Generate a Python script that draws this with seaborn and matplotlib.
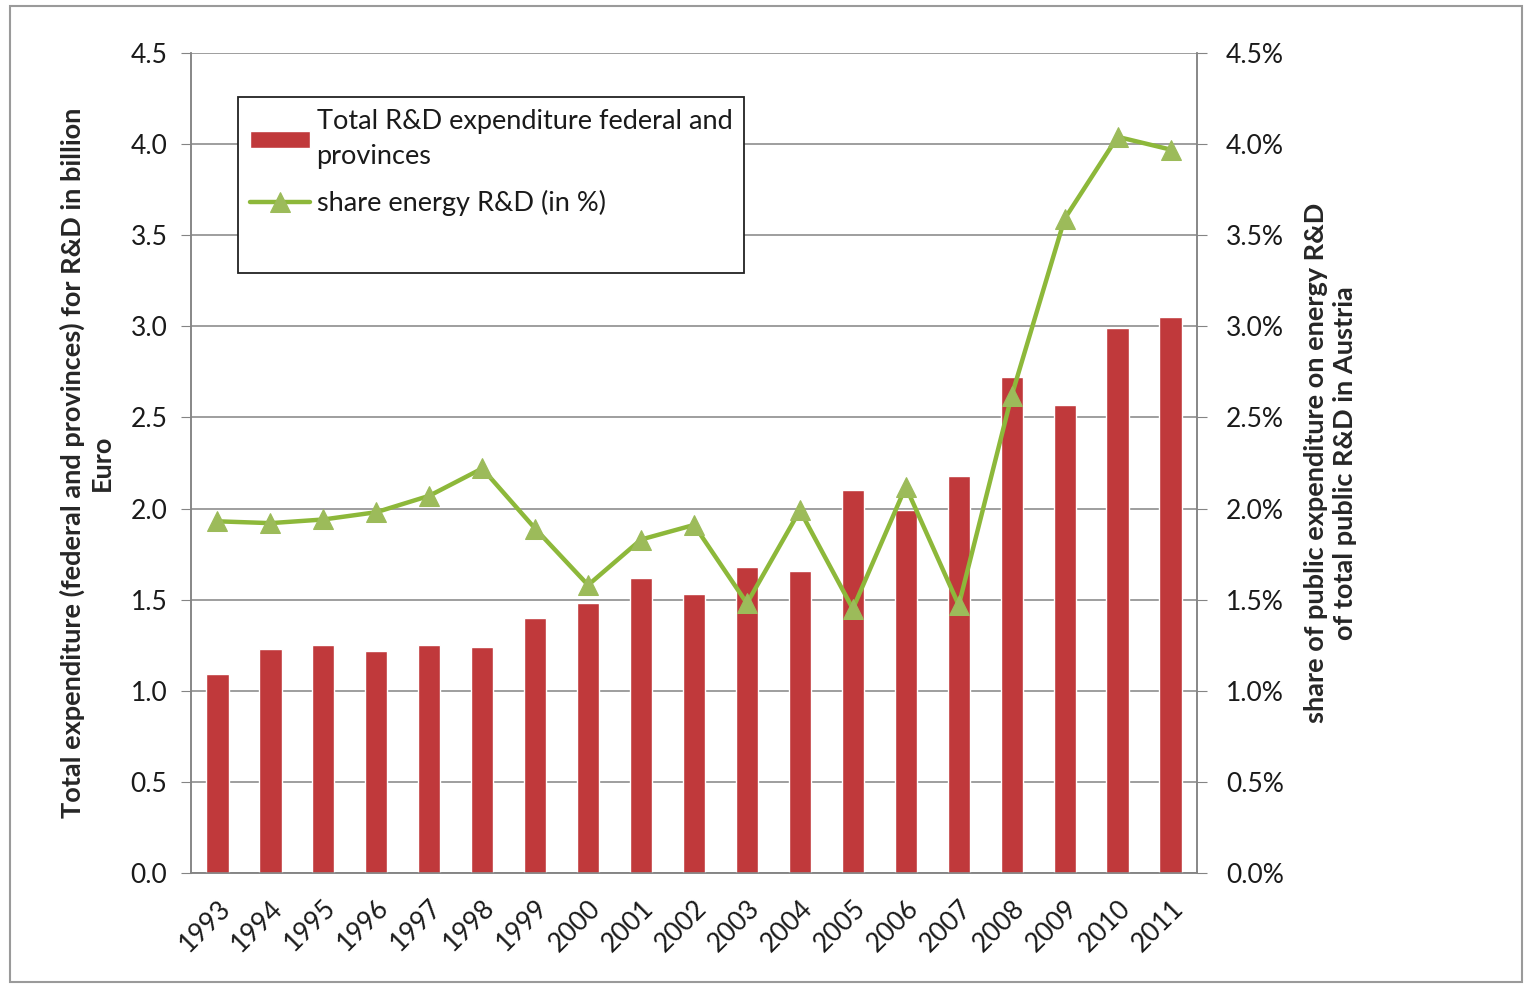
import numpy as np
import pandas as pd
import seaborn as sns
import matplotlib.pyplot as plt
from matplotlib.ticker import FuncFormatter, FixedLocator

# values
years = ['1993', '1994', '1995', '1996', '1997', '1998', '1999', '2000', '2001', '2002',
         '2003', '2004', '2005', '2006', '2007', '2008', '2009', '2010', '2011']
total_rd = [1.09, 1.23, 1.25, 1.22, 1.25, 1.24, 1.40, 1.48, 1.62, 1.53,
            1.68, 1.66, 2.10, 1.99, 2.18, 2.72, 2.57, 2.99, 3.05]
energy_share = [1.93, 1.92, 1.94, 1.98, 2.07, 2.22, 1.89, 1.58, 1.83, 1.91,
                1.48, 1.99, 1.45, 2.12, 1.47, 2.62, 3.59, 4.04, 3.97]

bar_label = 'Total R&D expenditure federal and\nprovinces'
line_label = 'share energy R&D (in %)'

df = pd.DataFrame({'year': years, 'total': total_rd,
                   'share': np.array(energy_share) / 100})
df['pos'] = np.arange(len(df))

sns.set_style('white')
plt.rcParams['font.family'] = ['Lato', 'DejaVu Sans']

fig = plt.figure(figsize=(15.27, 9.86), dpi=100)
ax = fig.add_axes([191 / 1527, 1 - 873 / 986, (1197 - 191) / 1527, (873 - 53) / 986])

grid_col = '#848484'
bar_col = '#C0393B'
line_col = '#8DB83A'
text_col = '#1a1a1a'

sns.barplot(data=df, x='year', y='total', color=bar_col, width=0.42,
            saturation=1, ax=ax, label=bar_label, zorder=3)

ax.set_ylim(0, 4.5)
ax.set_xlim(-0.5, len(years) - 0.5)
ax.set_yticks(np.arange(0, 4.51, 0.5))
ax.yaxis.set_major_formatter(FuncFormatter(lambda v, p: f'{v:.1f}'))
ax.grid(axis='y', color=grid_col, linewidth=1.1, zorder=0)
ax.set_axisbelow(True)

# tick marks between categories like the original
ax.xaxis.set_minor_locator(FixedLocator(np.arange(-0.5, len(years), 1.0)))
ax.tick_params(axis='x', which='major', length=0, labelsize=19, rotation=45, pad=16)
ax.tick_params(axis='x', which='minor', length=7, color=grid_col, direction='out')
ax.tick_params(axis='y', length=7, color=grid_col, direction='out', labelsize=19,
               labelcolor=text_col, left=True, pad=10)
for lbl in ax.get_xticklabels():
    lbl.set_ha('right')
    lbl.set_rotation_mode('anchor')
    lbl.set_color(text_col)

ax.spines['top'].set_visible(False)
for side in ['left', 'right', 'bottom']:
    ax.spines[side].set_color(grid_col)
    ax.spines[side].set_linewidth(1.1)

ax.set_xlabel('')
ax.set_ylabel('Total expenditure (federal and provinces) for R&D in billion\nEuro',
              fontsize=19.5, fontweight='bold', labelpad=12, linespacing=1.25)

ax2 = ax.twinx()
sns.lineplot(data=df, x='pos', y='share', color=line_col, linewidth=3.2,
             marker='^', markersize=15, markeredgecolor='#9CBB5A',
             markerfacecolor='#9CBB5A', ax=ax2, label=line_label, zorder=4)
ax2.set_ylim(0, 0.045)
ax2.set_yticks(np.arange(0, 0.0451, 0.005))
ax2.yaxis.set_major_formatter(FuncFormatter(lambda v, p: f'{v * 100:.1f}%'))
ax2.tick_params(axis='y', length=7, color=grid_col, direction='out', labelsize=19,
                labelcolor=text_col, right=True, pad=14)
ax2.spines['top'].set_visible(False)
for side in ['left', 'right', 'bottom']:
    ax2.spines[side].set_color(grid_col)
    ax2.spines[side].set_linewidth(1.1)
ax2.set_xlabel('')
ax2.set_ylabel('share of public expenditure on energy R&D\nof total public R&D in Austria',
               fontsize=19.5, fontweight='bold', labelpad=14, linespacing=1.25)
ax2.set_xlim(-0.5, len(years) - 0.5)

# combined legend; a blank last row keeps the empty room at the bottom of the box
h1, l1 = ax.get_legend_handles_labels()
h2, l2 = ax2.get_legend_handles_labels()
if ax.get_legend():
    ax.get_legend().remove()
if ax2.get_legend():
    ax2.get_legend().remove()
blank = plt.Line2D([], [], color='none')
leg = ax2.legend(h1 + h2 + [blank], l1 + l2 + [' '], loc='upper left',
                 bbox_to_anchor=(238 / 1527, 1 - 97 / 986), bbox_transform=fig.transFigure,
                 fontsize=19.5, frameon=True, fancybox=False, framealpha=1,
                 edgecolor='#222222', handlelength=2.2, handleheight=0.55,
                 handletextpad=0.25, borderpad=0.45, labelspacing=0.75, borderaxespad=0)
leg.get_frame().set_linewidth(1.3)
leg.set_zorder(10)
for t in leg.get_texts():
    t.set_color(text_col)
    t.set_linespacing(1.5)

# grey border round the whole picture
fig.patches.append(plt.Rectangle((10 / 1527, 4 / 986), 1512 / 1527, 976 / 986,
                                 transform=fig.transFigure, fill=False,
                                 edgecolor='#9a9a9a', linewidth=1.5))

fig.savefig('out.png', dpi=100)
